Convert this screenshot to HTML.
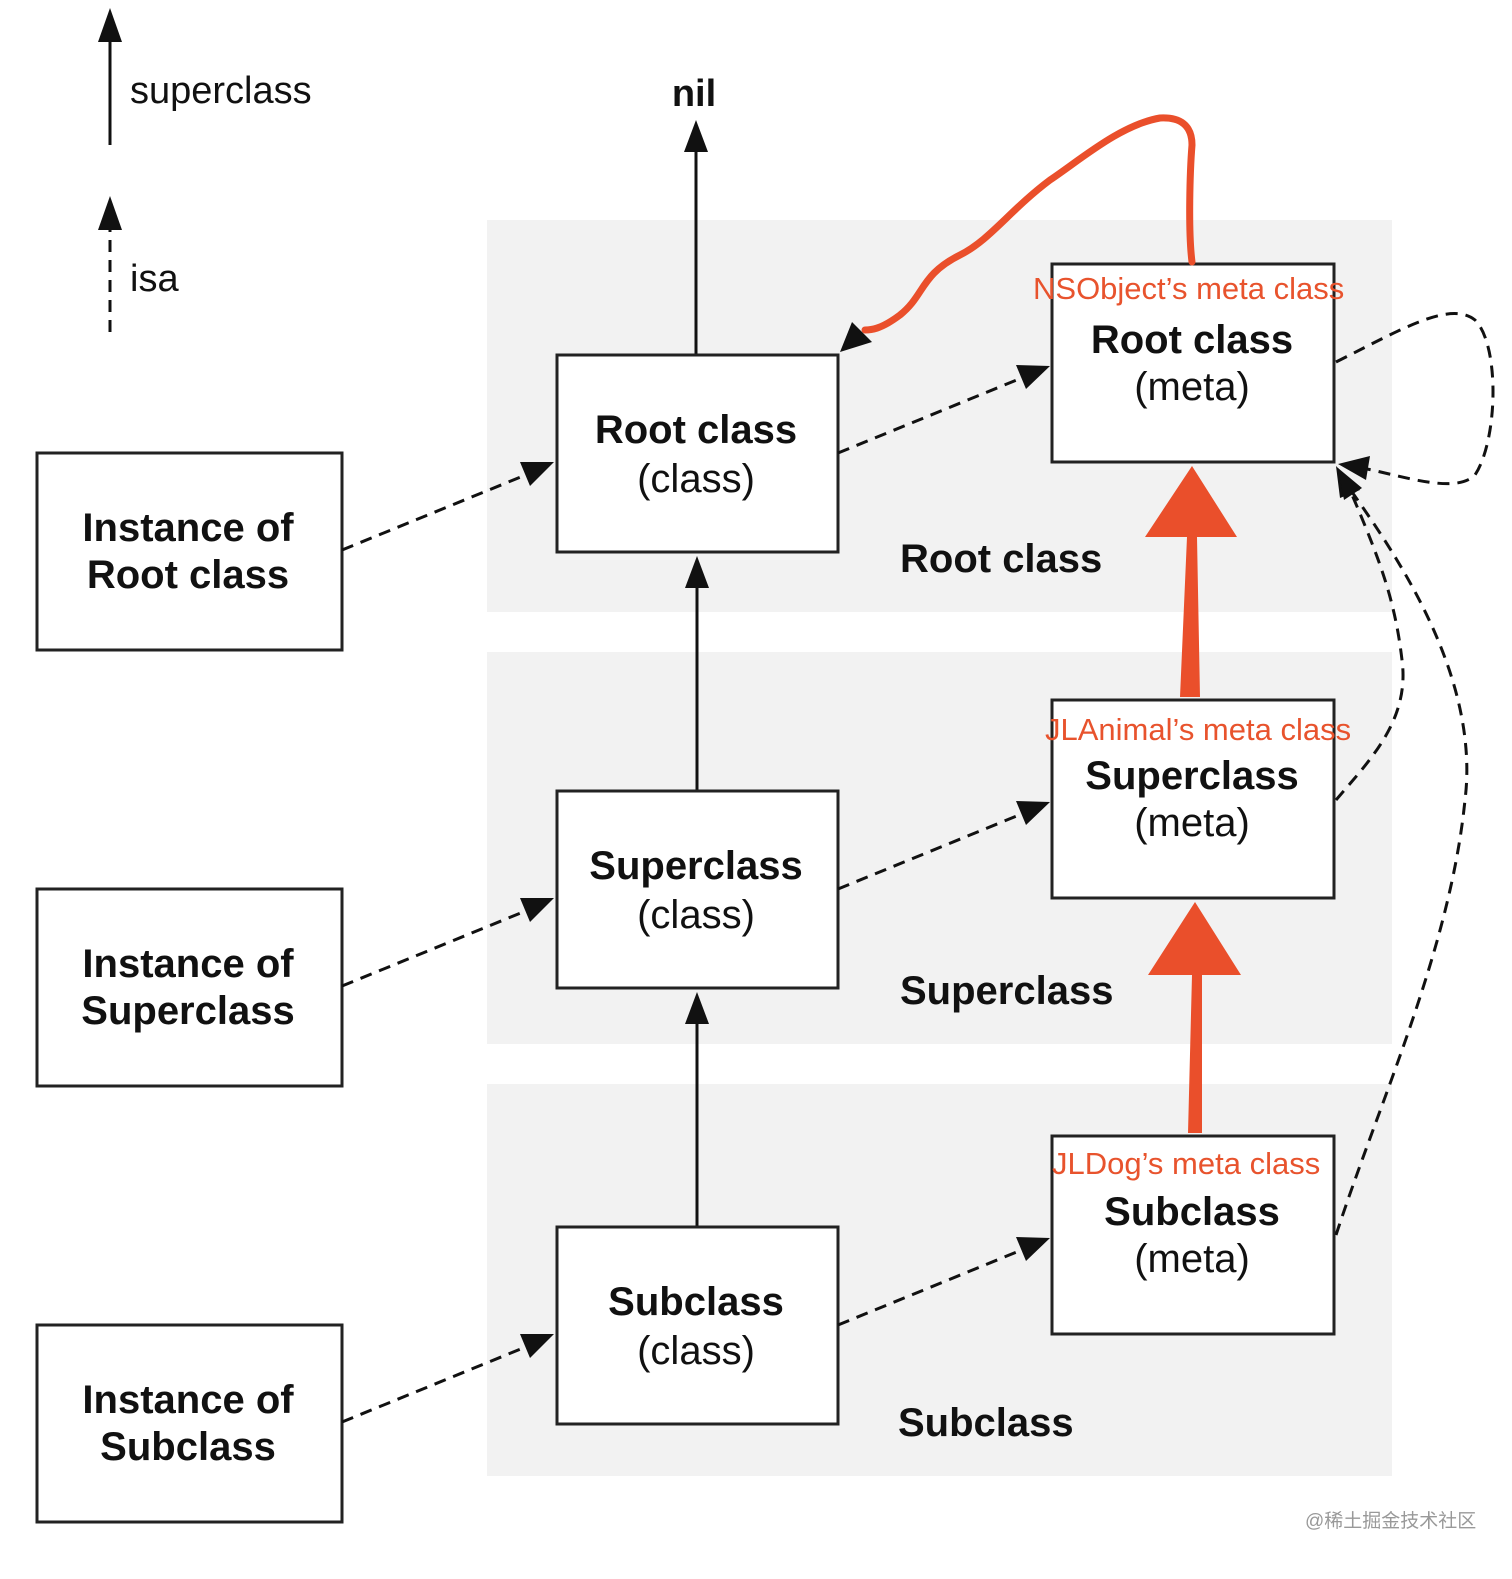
<!DOCTYPE html>
<html><head><meta charset="utf-8"><style>
html,body{margin:0;padding:0;background:#fff;}
svg{display:block;}
.b{font-family:"Liberation Sans",sans-serif;font-weight:bold;font-size:40px;fill:#111;}
.r{font-family:"Liberation Sans",sans-serif;font-size:40px;fill:#111;}
.red{font-family:"Liberation Sans",sans-serif;font-size:31px;fill:#e8532d;}
</style></head><body>
<svg width="1512" height="1579" viewBox="0 0 1512 1579" xmlns="http://www.w3.org/2000/svg">
<rect x="487" y="220" width="905" height="392" fill="#f2f2f2"/>
<rect x="487" y="652" width="905" height="392" fill="#f2f2f2"/>
<rect x="487" y="1084" width="905" height="392" fill="#f2f2f2"/>

<line x1="110" y1="145" x2="110" y2="38" stroke="#111" stroke-width="3"/>
<polygon points="98,42 122,42 110,8" fill="#111"/>
<text x="130" y="103" class="r" style="font-size:38px">superclass</text>
<line x1="110" y1="332" x2="110" y2="228" stroke="#111" stroke-width="3" stroke-dasharray="12,8"/>
<polygon points="98,230 122,230 110,196" fill="#111"/>
<text x="130" y="291" class="r" style="font-size:38px">isa</text>

<text x="694" y="106" class="b" text-anchor="middle" style="font-size:38px">nil</text>
<line x1="696" y1="355" x2="696" y2="150" stroke="#111" stroke-width="3"/>
<polygon points="684,152 708,152 696,120" fill="#111"/>

<line x1="697" y1="791" x2="697" y2="585" stroke="#111" stroke-width="3"/>
<polygon points="685,588 709,588 697,556" fill="#111"/>
<line x1="697" y1="1227" x2="697" y2="1022" stroke="#111" stroke-width="3"/>
<polygon points="685,1024 709,1024 697,992" fill="#111"/>

<g fill="#fff" stroke="#222" stroke-width="3">
<rect x="37" y="453" width="305" height="197"/>
<rect x="37" y="889" width="305" height="197"/>
<rect x="37" y="1325" width="305" height="197"/>
<rect x="557" y="355" width="281" height="197"/>
<rect x="557" y="791" width="281" height="197"/>
<rect x="557" y="1227" width="281" height="197"/>
<rect x="1052" y="264" width="282" height="198"/>
<rect x="1052" y="700" width="282" height="198"/>
<rect x="1052" y="1136" width="282" height="198"/>
</g>

<text x="188" y="541" class="b" text-anchor="middle">Instance of</text>
<text x="188" y="588" class="b" text-anchor="middle">Root class</text>
<text x="188" y="977" class="b" text-anchor="middle">Instance of</text>
<text x="188" y="1024" class="b" text-anchor="middle">Superclass</text>
<text x="188" y="1413" class="b" text-anchor="middle">Instance of</text>
<text x="188" y="1460" class="b" text-anchor="middle">Subclass</text>

<text x="696" y="443" class="b" text-anchor="middle">Root class</text>
<text x="696" y="492" class="r" text-anchor="middle">(class)</text>
<text x="696" y="879" class="b" text-anchor="middle">Superclass</text>
<text x="696" y="928" class="r" text-anchor="middle">(class)</text>
<text x="696" y="1315" class="b" text-anchor="middle">Subclass</text>
<text x="696" y="1364" class="r" text-anchor="middle">(class)</text>

<text x="1192" y="353" class="b" text-anchor="middle">Root class</text>
<text x="1192" y="400" class="r" text-anchor="middle">(meta)</text>
<text x="1192" y="789" class="b" text-anchor="middle">Superclass</text>
<text x="1192" y="836" class="r" text-anchor="middle">(meta)</text>
<text x="1192" y="1225" class="b" text-anchor="middle">Subclass</text>
<text x="1192" y="1272" class="r" text-anchor="middle">(meta)</text>

<text x="900" y="572" class="b">Root class</text>
<text x="900" y="1004" class="b">Superclass</text>
<text x="898" y="1436" class="b">Subclass</text>

<g stroke="#111" stroke-width="3" stroke-dasharray="12,8" fill="none">
<line x1="342" y1="550" x2="528" y2="474"/>
<line x1="342" y1="986" x2="528" y2="910"/>
<line x1="342" y1="1422" x2="528" y2="1346"/>
<line x1="838" y1="453" x2="1024" y2="377"/>
<line x1="838" y1="889" x2="1024" y2="813"/>
<line x1="838" y1="1325" x2="1024" y2="1249"/>
<path d="M1336,362 C1400,330 1450,300 1475,320 C1500,345 1498,440 1475,475 C1455,495 1400,475 1362,468"/>
<path d="M1336,800 C1370,760 1410,720 1402,660 C1395,600 1380,560 1350,490"/>
<path d="M1336,1235 C1380,1100 1450,950 1465,800 C1480,680 1400,560 1352,492"/>
</g>
<g fill="#111">
<polygon points="554,462 520,462 530,486"/>
<polygon points="554,898 520,898 530,922"/>
<polygon points="554,1334 520,1334 530,1358"/>
<polygon points="1050,366 1016,365 1026,389"/>
<polygon points="1050,802 1016,801 1026,825"/>
<polygon points="1050,1238 1016,1237 1026,1261"/>
<polygon points="1338,464 1370,456 1366,480"/>
<polygon points="1336,466 1360,490 1340,498"/>
<polygon points="1338,468 1362,488 1344,500"/>
</g>

<text x="1033" y="299" class="red">NSObject’s meta class</text>
<text x="1045" y="740" class="red">JLAnimal’s meta class</text>
<text x="1052" y="1174" class="red">JLDog’s meta class</text>

<path d="M1180,697 L1187,537 L1145,537 L1192,466 L1237,537 L1197,537 L1200,697 Z" fill="#ea4f2b"/>
<path d="M1188,1133 L1192,975 L1148,975 L1195,902 L1241,975 L1202,975 L1202,1133 Z" fill="#ea4f2b"/>

<path d="M1192,262 C1188,230 1190,170 1192,145 C1192,125 1180,117 1160,118 C1120,125 1080,160 1050,180 C1010,210 990,240 960,255 C920,275 925,295 900,315 C880,330 870,330 865,330" stroke="#ea4f2b" stroke-width="7" fill="none" stroke-linecap="round"/>
<polygon points="840,352 852,322 872,342" fill="#111"/>

<text x="1305" y="1527" style="font-family:'Liberation Sans','Noto Sans CJK SC',sans-serif;font-size:19px;fill:#999">@稀土掘金技术社区</text>
</svg>
</body></html>
